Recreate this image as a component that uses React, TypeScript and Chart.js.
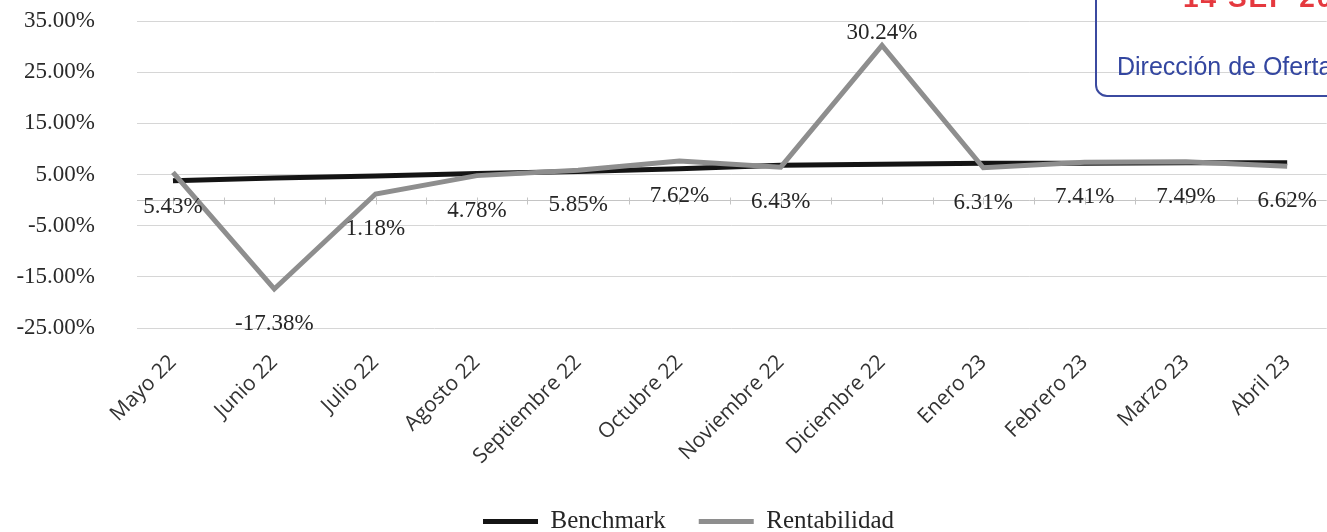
import React, { useEffect, useRef } from "react";
import { Chart, registerables } from "chart.js";

Chart.register(...registerables);

const categories = [
  "Mayo 22",
  "Junio 22",
  "Julio 22",
  "Agosto 22",
  "Septiembre 22",
  "Octubre 22",
  "Noviembre 22",
  "Diciembre 22",
  "Enero 23",
  "Febrero 23",
  "Marzo 23",
  "Abril 23",
];
const benchmark = [3.8, 4.3, 4.7, 5.2, 5.6, 6.1, 6.8, 7.0, 7.2, 7.2, 7.3, 7.3];
const rentabilidad = [5.43, -17.38, 1.18, 4.78, 5.85, 7.62, 6.43, 30.24, 6.31, 7.41, 7.49, 6.62];
const yTicks = [-25, -15, -5, 5, 15, 25, 35];
const seriesNames = ["Benchmark", "Rentabilidad"];

const SERIF = '"Liberation Serif", "Times New Roman", serif';

const rentLabels = {
  id: "rentLabels",
  afterDatasetsDraw(chart: any) {
    const meta = chart.getDatasetMeta(1);
    const ctx = chart.ctx;
    const peak = rentabilidad.indexOf(Math.max(...rentabilidad));
    ctx.save();
    ctx.font = `23px ${SERIF}`;
    ctx.fillStyle = "#262626";
    ctx.textAlign = "center";
    ctx.textBaseline = "middle";
    meta.data.forEach((pt: any, i: number) => {
      const txt = `${rentabilidad[i].toFixed(2)}%`;
      ctx.fillText(txt, pt.x, pt.y + (i === peak ? -12 : 35));
    });
    ctx.restore();
  },
};

const zeroLine = {
  id: "zeroLine",
  beforeDatasetsDraw(chart: any) {
    const { ctx, chartArea, scales } = chart;
    const y0 = Math.round(scales.y.getPixelForValue(0)) + 0.5;
    ctx.save();
    ctx.strokeStyle = "#c4c4c4";
    ctx.lineWidth = 1;
    ctx.beginPath();
    ctx.moveTo(chartArea.left, y0);
    ctx.lineTo(chartArea.right, y0);
    for (let i = 0; i < categories.length; i++) {
      for (const h of [0, 0.5]) {
        const x = Math.round(scales.x.getPixelForValue(i + h)) + 0.5;
        if (x > chartArea.right) continue;
        ctx.moveTo(x, y0 - 3);
        ctx.lineTo(x, y0 + 4);
      }
    }
    ctx.stroke();
    ctx.restore();
  },
};

const shiftLegend = {
  id: "shiftLegend",
  afterLayout(chart: any) {
    if (chart.legend) {
      chart.legend.left += 25;
      chart.legend.right += 25;
    }
  },
};

export default function App() {
  const canvasRef = useRef<HTMLCanvasElement | null>(null);

  useEffect(() => {
    if (!canvasRef.current) return;
    const chart = new Chart(canvasRef.current, {
      type: "line",
      data: {
        datasets: [
          {
            label: seriesNames[0],
            data: benchmark.map((v, i) => ({ x: i, y: v })),
            borderColor: "#141414",
            backgroundColor: "#141414",
            borderWidth: 5,
            pointRadius: 0,
            tension: 0,
            order: 1,
          },
          {
            label: seriesNames[1],
            data: rentabilidad.map((v, i) => ({ x: i, y: v })),
            borderColor: "#8e8e8e",
            backgroundColor: "#8e8e8e",
            borderWidth: 5,
            pointRadius: 0,
            tension: 0,
            order: 0,
          },
        ],
      },
      options: {
        responsive: false,
        animation: false,
        layout: { padding: { top: 21, left: 0, right: 0, bottom: -12 } },
        scales: {
          x: {
            type: "linear",
            min: -0.355,
            max: 11.39,
            afterBuildTicks: (scale: any) => {
              scale.ticks = categories.map((_, i) => ({ value: i }));
            },
            afterFit: (scale: any) => {
              scale.height = 148;
            },
            grid: { display: false, drawTicks: false },
            border: { display: false },
            ticks: {
              autoSkip: false,
              minRotation: 45,
              maxRotation: 45,
              padding: 22,
              color: "#333",
              font: { family: '"Open Sans", sans-serif', size: 21 },
              callback: (v: any) => categories[Math.round(Number(v))] ?? "",
            },
          },
          y: {
            min: -25,
            max: 35,
            afterBuildTicks: (scale: any) => {
              scale.ticks = yTicks.map((v) => ({ value: v }));
            },
            afterFit: (scale: any) => {
              scale.width = 137;
            },
            grid: {
              color: "#d6d6d6",
              lineWidth: 1,
              drawTicks: true,
              tickLength: 42,
              tickColor: "rgba(0,0,0,0)",
            },
            border: { display: false },
            ticks: {
              padding: 0,
              color: "#2a2a2a",
              font: { family: SERIF, size: 23 },
              callback: (v: any) => `${Number(v).toFixed(2)}%`,
            },
          },
        },
        plugins: {
          legend: {
            position: "bottom",
            labels: {
              boxWidth: 55,
              boxHeight: 5,
              padding: 33,
              color: "#262626",
              font: { family: SERIF, size: 25 },
              sort: (a: any, b: any) => a.datasetIndex - b.datasetIndex,
              generateLabels: (c: any) =>
                Chart.defaults.plugins.legend.labels
                  .generateLabels(c)
                  .map((l: any) => ({ ...l, lineWidth: 0 })),
            },
          },
          tooltip: { enabled: false },
        },
      },
      plugins: [zeroLine, rentLabels, shiftLegend],
    } as any);
    return () => chart.destroy();
  }, []);

  return (
    <div
      style={{
        position: "absolute",
        left: 0,
        top: 0,
        width: 1327,
        height: 532,
        overflow: "hidden",
        background: "#fff",
      }}
    >
      <canvas ref={canvasRef} width={1327} height={532} style={{ width: 1327, height: 532, display: "block" }} />
      <div
        style={{
          position: "absolute",
          left: 1095,
          top: -12,
          width: 280,
          height: 109,
          border: "2px solid #3b4aa0",
          borderRadius: 12,
          boxSizing: "border-box",
          pointerEvents: "none",
        }}
      />
      <div
        style={{
          position: "absolute",
          left: 1183,
          top: -17,
          font: 'bold 28px "Liberation Sans", Arial, sans-serif',
          lineHeight: "30px",
          letterSpacing: 2,
          color: "#e5393f",
          whiteSpace: "nowrap",
        }}
      >
        14 SEP 2023
      </div>
      <div
        style={{
          position: "absolute",
          left: 1117,
          top: 51,
          font: '25px "Liberation Sans", Arial, sans-serif',
          lineHeight: "30px",
          color: "#3346a0",
          whiteSpace: "nowrap",
        }}
      >
        Dirección de Oferta Institucional
      </div>
    </div>
  );
}
